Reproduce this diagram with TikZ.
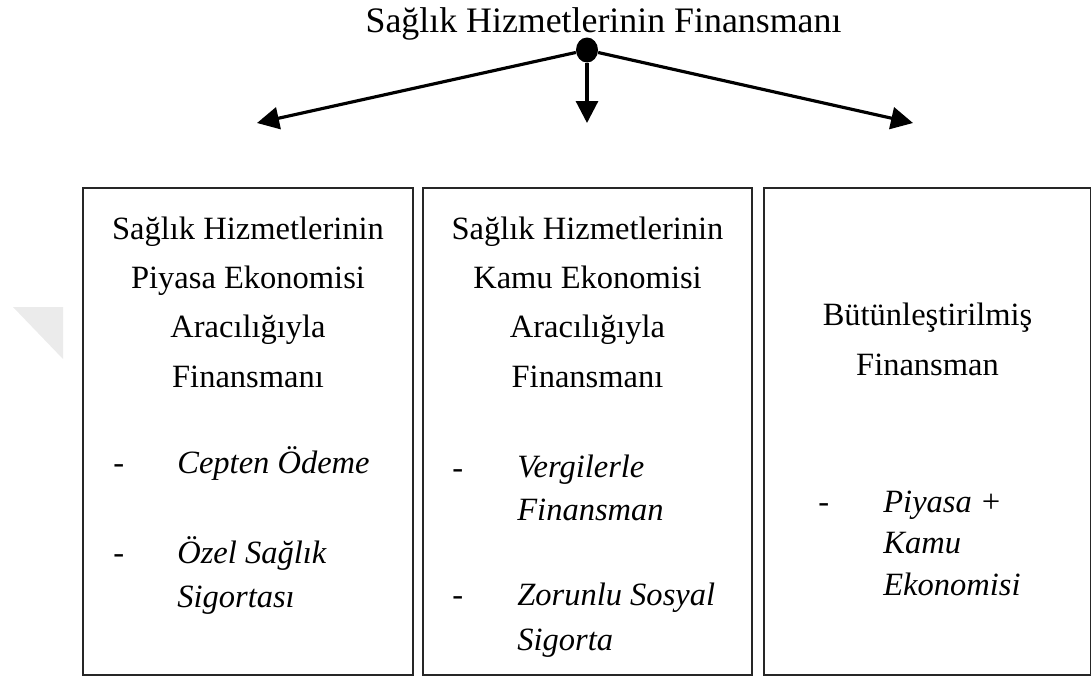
\documentclass[tikz,border=0pt]{standalone}
\usepackage{fontspec}
\setmainfont{Liberation Serif}
\usetikzlibrary{arrows.meta,shapes.geometric}

\begin{document}
\begin{tikzpicture}[x=0.02cm, y=-0.02cm,
    kutu/.style={draw=black!85, line width=1.5pt, inner sep=0pt, minimum height=9.74cm},
    baslik/.style={align=center, anchor=base, inner sep=0pt, font=\fontsize{18.5}{27.9}\selectfont},
    madde/.style={align=left, anchor=base west, inner sep=0pt, font=\fontsize{18.5}{#1}\selectfont\itshape},
    madde/.default=24.5pt,
    tire/.style={anchor=base west, inner sep=0pt, font=\fontsize{18.5}{24.5}\selectfont},
    ok/.style={line width=1.8pt, -{Triangle[length=4.4mm, width=4.4mm]}}]
  \useasboundingbox (0,0) rectangle (1091,680);
  \fill [black!8] (13,307) -- (63,307) -- (63,359) -- cycle;
  \node [anchor=base, inner sep=0pt, font=\fontsize{20.4}{24}\selectfont] (ust) at (603.5,32) {Sağlık Hizmetlerinin Finansmanı};
  \node [ellipse, fill, inner sep=0pt, minimum width=4.4mm, minimum height=5mm] (nokta) at (587,50) {};
  \coordinate (sol) at (257,123);
  \coordinate (orta) at (587,123);
  \coordinate (sag) at (913,123);
  \draw [ok] (nokta) -- (sol);
  \draw [ok] (nokta) -- (orta);
  \draw [ok] (nokta) -- (sag);

  \node [kutu, minimum width=6.6cm] (piyasa) at (248,431.5) {};
  \node [kutu, minimum width=6.58cm] (kamu) at (587.5,431.5) {};
  \node [kutu, minimum width=6.54cm] (butun) at (927.5,431.5) {};

  % son satirin taban cizgisine gore
  \node [baslik] (piyasab) at (248,387) {Sağlık Hizmetlerinin\\Piyasa Ekonomisi\\Aracılığıyla\\Finansmanı};
  \node [tire] (t1) at (113,473) {-};
  \node [madde] (m1) at (177,473) {Cepten Ödeme};
  \node [tire] (t2) at (113,563) {-};
  \node [madde=25pt] (m2) at (177,607) {Özel Sağlık\\Sigortası};

  \node [baslik] (kamub) at (587.5,387) {Sağlık Hizmetlerinin\\Kamu Ekonomisi\\Aracılığıyla\\Finansmanı};
  \node [tire] (t3) at (452,478) {-};
  \node [madde=24pt] (m3) at (517,520) {Vergilerle\\Finansman};
  \node [tire] (t4) at (452,605) {-};
  \node [madde=25.6pt] (m4) at (517,650) {Zorunlu Sosyal\\Sigorta};

  \node [baslik] (butunb) at (927.5,375) {Bütünleştirilmiş\\Finansman};
  \node [tire] (t5) at (818,512) {-};
  \node [madde=23.6pt] (m5) at (883,595) {Piyasa +\\Kamu\\Ekonomisi};
\end{tikzpicture}
\end{document}
